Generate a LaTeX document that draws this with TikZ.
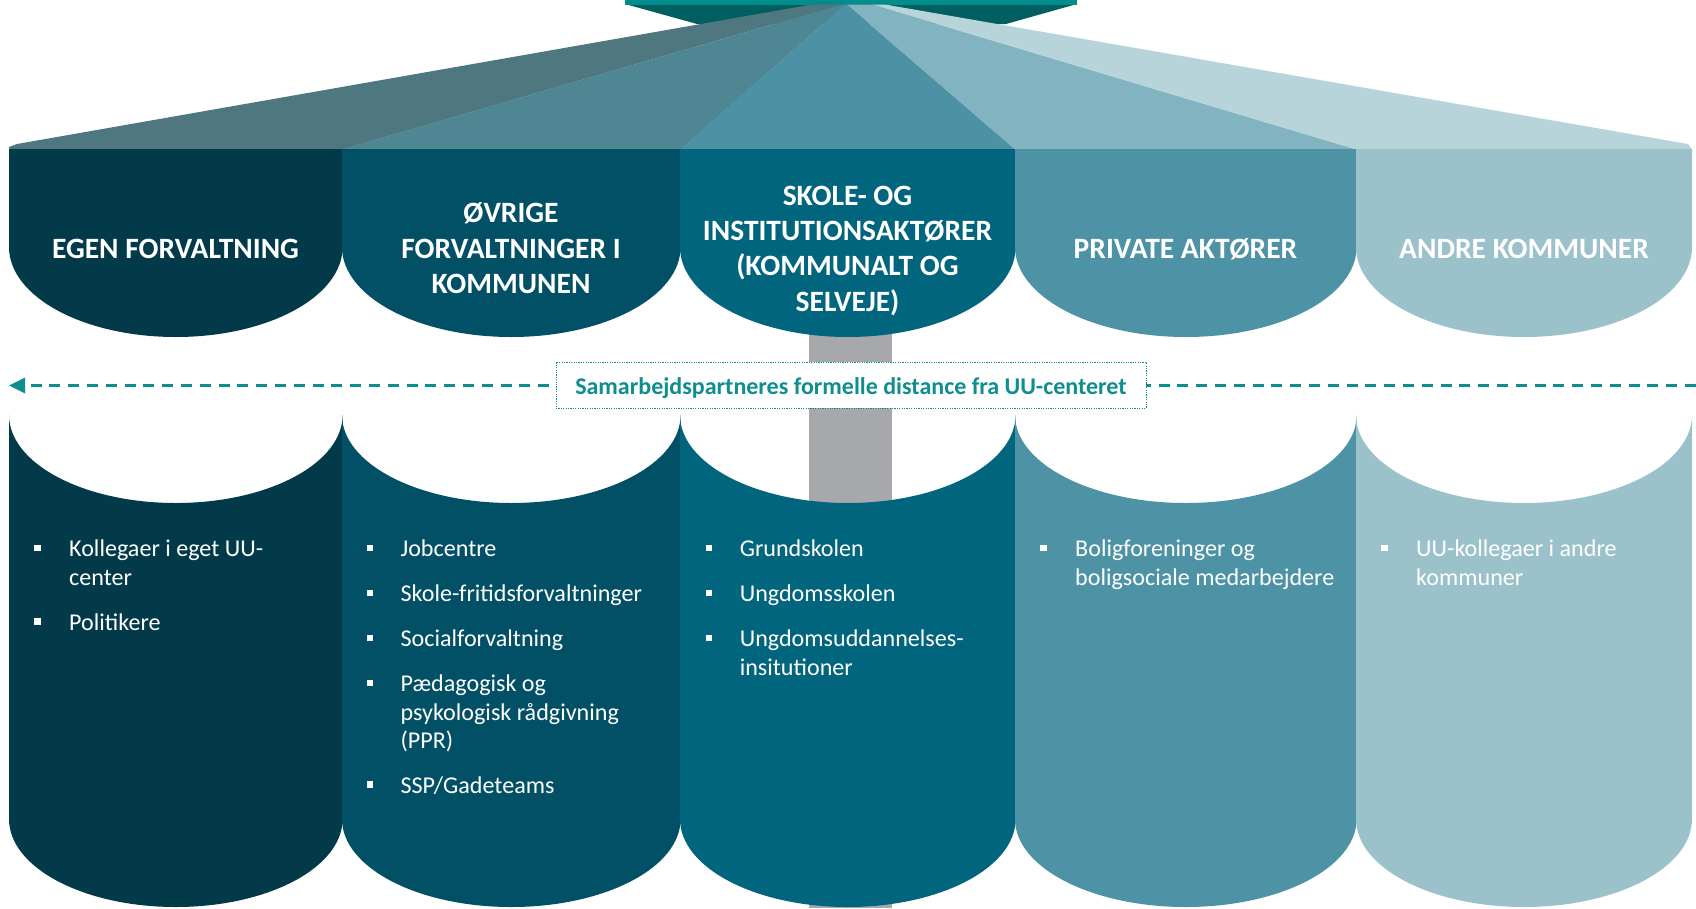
\documentclass[tikz,border=0pt]{standalone}
\usepackage{fontspec}
\setmainfont{Carlito}
\usetikzlibrary{arrows.meta}
\definecolor{colA}{HTML}{023A4A}
\definecolor{colB}{HTML}{025066}
\definecolor{colC}{HTML}{01657E}
\definecolor{colD}{HTML}{4D93A5}
\definecolor{colE}{HTML}{9BC1CB}
\definecolor{fanA}{HTML}{4E7780}
\definecolor{fanB}{HTML}{4E8693}
\definecolor{fanC}{HTML}{4D92A4}
\definecolor{fanD}{HTML}{82B3C0}
\definecolor{fanE}{HTML}{B7D4DA}
\definecolor{barteal}{HTML}{028C8C}
\definecolor{bardark}{HTML}{025F5F}
\definecolor{polegray}{HTML}{A7A8AC}
\definecolor{linkteal}{HTML}{0E8E8E}
\newcommand\HeadCol[3]{%
  \pgfmathsetmacro\xc{(#1+#2)/2}%
  \pgfmathsetmacro\kr{0.5523*(#2-#1)/2}%
  \pgfmathsetmacro\xa{\xc-\kr}%
  \pgfmathsetmacro\xb{\xc+\kr}%
  \fill[#3] (#1,149) -- (#2,149) -- (#2,247) .. controls (#2,296.7) and (\xb,337) .. (\xc,337)
     .. controls (\xa,337) and (#1,296.7) .. (#1,247) -- cycle;}
\newcommand\LowCol[3]{%
  \pgfmathsetmacro\xc{(#1+#2)/2}%
  \pgfmathsetmacro\kr{0.5523*(#2-#1)/2}%
  \pgfmathsetmacro\xa{\xc-\kr}%
  \pgfmathsetmacro\xb{\xc+\kr}%
  \fill[#3] (#1,415) .. controls (#1,463.6) and (\xa,503) .. (\xc,503)
     .. controls (\xb,503) and (#2,463.6) .. (#2,415) -- (#2,819)
     .. controls (#2,867.6) and (\xb,907) .. (\xc,907)
     .. controls (\xa,907) and (#1,867.6) .. (#1,819) -- cycle;}
\tikzset{
  hdr/.style={text=white, font=\fontsize{29.5}{35}\selectfont\bfseries, anchor=base, inner sep=0pt},
  itm/.style={text=white, font=\fontsize{24.1}{28.3}\selectfont, anchor=base west, inner sep=0pt},
  bul/.style={fill=white, rectangle, minimum size=6.5pt, inner sep=0pt},
}
\begin{document}
\begin{tikzpicture}[x=1pt,y=-1pt]
\useasboundingbox (0,0) rectangle (1696,908);
\fill[white] (0,0) rectangle (1696,908);
% pole
\fill[polegray] (809,300) rectangle (892,908);
% top bar
\fill[bardark] (625,4) -- (1077,4) -- (1006,24) -- (697,24) -- cycle;
\fill[barteal] (625,0) rectangle (1077,4.5);
% fan
\fill[fanA] (812,4.5) -- (841,4.5) -- (342.5,149.5) -- (9,149.5) -- (9,147) -- (17,144) -- cycle;
\fill[fanB] (841,4.5) -- (845,4.5) -- (680.5,149.5) -- (342,149.5) -- cycle;
\fill[fanC] (845,4.5) -- (847,4.5) -- (1015.5,149.5) -- (680,149.5) -- cycle;
\fill[fanD] (847,4.5) -- (872,4.5) -- (1356.5,149.5) -- (1015,149.5) -- cycle;
\fill[fanE] (872,4.5) -- (885,4.5) -- (1688,144) -- (1692,149.5) -- (1356,149.5) -- cycle;
% header columns
\HeadCol{9}{342.6}{colA}
\HeadCol{342}{680.6}{colB}
\HeadCol{680}{1015.6}{colC}
\HeadCol{1015}{1356.6}{colD}
\HeadCol{1356}{1692}{colE}
% lower columns
\LowCol{9}{342.6}{colA}
\LowCol{342}{680.6}{colB}
\LowCol{680}{1015.6}{colC}
\LowCol{1015}{1356.6}{colD}
\LowCol{1356}{1692}{colE}
% header texts
\node[hdr] (h1) at (175.5,258) {EGEN FORVALTNING};
\node[hdr] (h2a) at (511,222.7) {ØVRIGE};
\node[hdr] (h2b) at (511,258) {FORVALTNINGER I};
\node[hdr] (h2c) at (511,293.3) {KOMMUNEN};
\node[hdr] (h3a) at (847.5,205) {SKOLE- OG};
\node[hdr] (h3b) at (847.5,240.3) {INSTITUTIONSAKTØRER};
\node[hdr] (h3c) at (847.5,275.7) {(KOMMUNALT OG};
\node[hdr] (h3d) at (847.5,311) {SELVEJE)};
\node[hdr] (h4) at (1185.5,258) {PRIVATE AKTØRER};
\node[hdr] (h5) at (1524,258) {ANDRE KOMMUNER};
% distance arrow
\coordinate (arrR) at (1696,385.5);
\coordinate (arrL) at (9,385.5);
\draw[linkteal, line width=3pt, dash pattern=on 11pt off 7.8pt, -{Triangle[length=16pt,width=15pt]}] (arrR) -- (arrL);
\node[draw=linkteal, line width=1pt, dash pattern=on 1.2pt off 1.2pt, fill=white, minimum width=590pt, minimum height=46pt, inner sep=0pt] (lblbox) at (851,385) {};
\node[text=linkteal, font=\fontsize{24}{28}\selectfont\bfseries, anchor=base, inner sep=0pt] (lbl) at (851,394.3) {Samarbejdspartneres formelle distance fra UU-centeret};
% column 1 items
\node[bul] (b11) at (37.5,548) {};
\node[itm] (t11a) at (69,556.7) {Kollegaer i eget UU-};
\node[itm] (t11b) at (69,585) {center};
\node[bul] (b12) at (37.5,621.5) {};
\node[itm] (t12) at (69,630) {Politikere};
% column 2 items
\node[bul] (b21) at (370,548) {};
\node[itm] (t21) at (400.4,556.7) {Jobcentre};
\node[bul] (b22) at (370,593.2) {};
\node[itm] (t22) at (400.4,601.7) {Skole-fritidsforvaltninger};
\node[bul] (b23) at (370,638) {};
\node[itm] (t23) at (400.4,646.5) {Socialforvaltning};
\node[bul] (b24) at (370,683) {};
\node[itm] (t24a) at (400.4,691.5) {Pædagogisk og};
\node[itm] (t24b) at (400.4,720) {psykologisk rådgivning};
\node[itm] (t24c) at (400.4,748.3) {(PPR)};
\node[bul] (b25) at (370,784.5) {};
\node[itm] (t25) at (400.4,793) {SSP/Gadeteams};
% column 3 items
\node[bul] (b31) at (709,548) {};
\node[itm] (t31) at (739.6,556.7) {Grundskolen};
\node[bul] (b32) at (709,593.2) {};
\node[itm] (t32) at (739.6,601.7) {Ungdomsskolen};
\node[bul] (b33) at (709,638) {};
\node[itm] (t33a) at (739.6,646.5) {Ungdomsuddannelses-};
\node[itm] (t33b) at (739.6,675) {insitutioner};
% column 4 items
\node[bul] (b41) at (1043.5,548) {};
\node[itm] (t41a) at (1075,556.7) {Boligforeninger og};
\node[itm] (t41b) at (1075,585) {boligsociale medarbejdere};
% column 5 items
\node[bul] (b51) at (1384.5,548) {};
\node[itm] (t51a) at (1416,556.7) {UU-kollegaer i andre};
\node[itm] (t51b) at (1416,585) {kommuner};
\end{tikzpicture}
\end{document}
